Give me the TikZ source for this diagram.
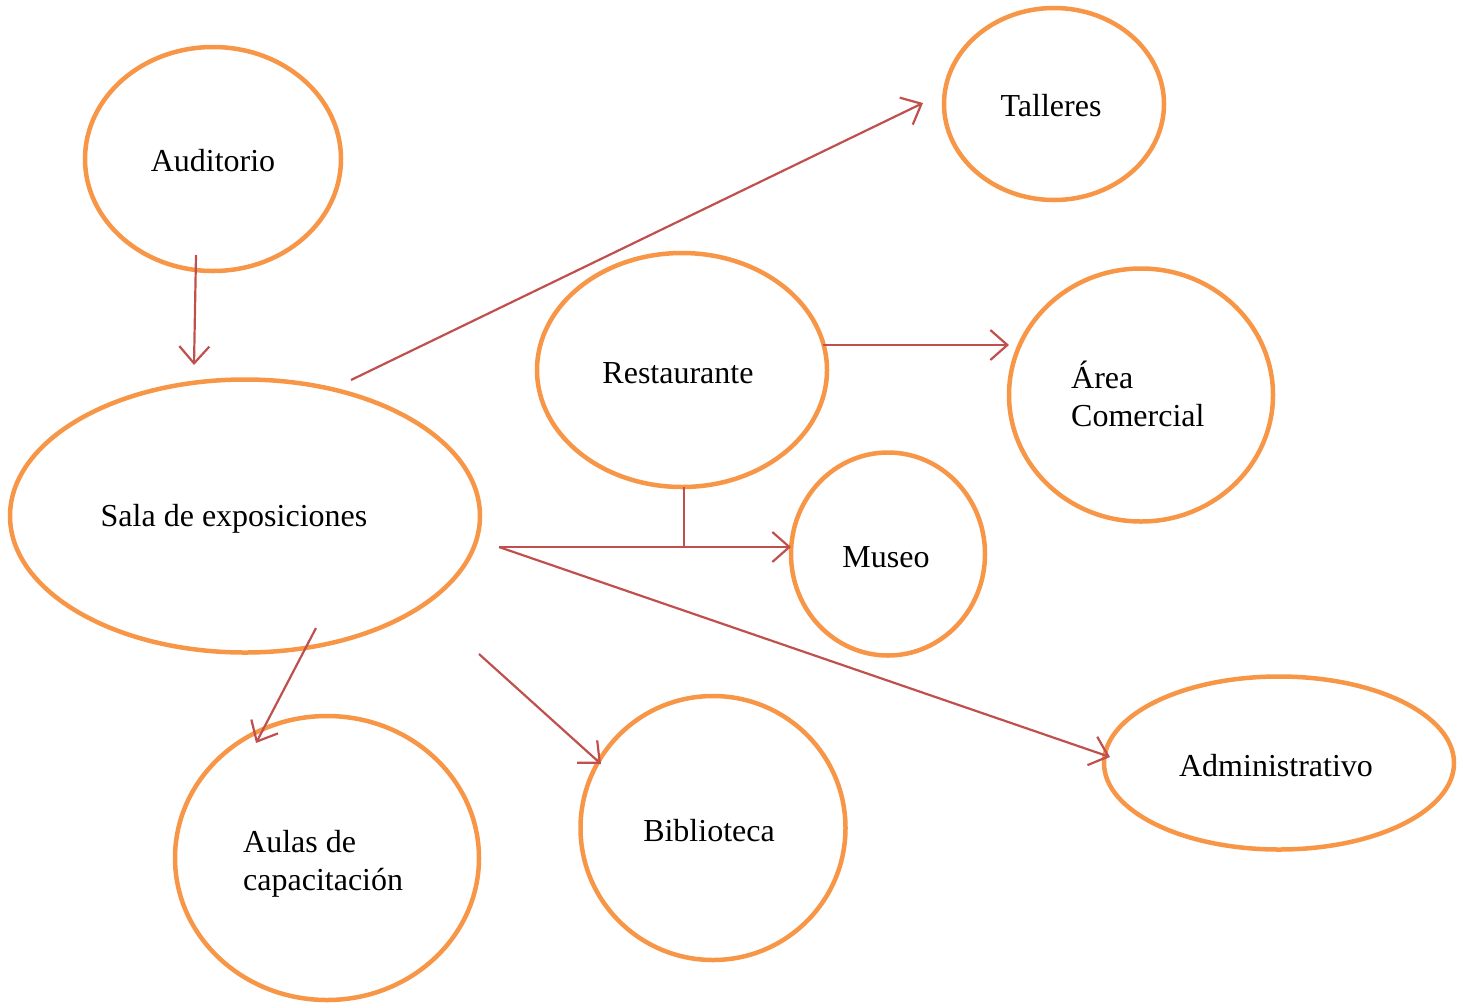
\documentclass[tikz,border=0pt]{standalone}
\usepackage{fontspec}
\setmainfont{Liberation Serif}
\usetikzlibrary{shapes.geometric,arrows.meta}
\definecolor{orng}{HTML}{F79646}
\definecolor{rd}{HTML}{C0504D}
\begin{document}
\begin{tikzpicture}[x=1pt,y=-1pt,
  bubble/.style={draw=orng,line width=4.5pt,ellipse,inner sep=0pt},
  lbl/.style={font=\fontsize{32}{38}\selectfont,inner sep=0pt},
  conn/.style={draw=rd,line width=2.2pt,-{Straight Barb[length=17pt,width=30pt,line width=2.2pt]}},
  plain/.style={draw=rd,line width=2.2pt}]
\useasboundingbox (0,0) rectangle (1466,1002);
% ellipses
\node[bubble,minimum width=256pt,minimum height=224pt] (aud) at (213,159) {};
\node[bubble,minimum width=220pt,minimum height=192pt] (tal) at (1054,104) {};
\node[bubble,minimum width=290pt,minimum height=234pt] (res) at (682,370) {};
\node[bubble,minimum width=264pt,minimum height=253pt] (com) at (1141,395) {};
\node[bubble,minimum width=470pt,minimum height=273pt] (sala) at (245,516) {};
\node[bubble,minimum width=194pt,minimum height=203pt] (mus) at (888,554) {};
\node[bubble,minimum width=350pt,minimum height=173pt] (adm) at (1279,763) {};
\node[bubble,minimum width=304pt,minimum height=284pt] (aul) at (327,858) {};
\node[bubble,minimum width=265pt,minimum height=264pt] (bib) at (713,828) {};
% labels
\node[lbl] (taud) at (213,161) {Auditorio};
\node[lbl] (ttal) at (1051,106) {Talleres};
\node[lbl] (tres) at (678,373) {Restaurante};
\node[lbl,align=left,anchor=west] (tcom) at (1071,394) {Área\\Comercial};
\node[lbl] (tsala) at (234,519) {Sala de exposiciones};
\node[lbl] (tmus) at (886,557) {Museo};
\node[lbl] (tadm) at (1276,766) {Administrativo};
\node[lbl,align=left,anchor=west] (taul) at (243,864) {Aulas de\\capacitación};
\node[lbl] (tbib) at (709,831) {Biblioteca};
% connector end points
\coordinate (a1) at (196,255);
\coordinate (a2) at (194,365);
\coordinate (b1) at (351,380);
\coordinate (b2) at (923,103);
\coordinate (c1) at (823,345);
\coordinate (c2) at (1009,345);
\coordinate (d1) at (684,487);
\coordinate (d2) at (684,547);
\coordinate (e1) at (499,547);
\coordinate (e2) at (791,547);
\coordinate (f2) at (1110,757);
\coordinate (g1) at (316,628);
\coordinate (g2) at (256,743);
\coordinate (h1) at (479,654);
\coordinate (h2) at (601,764);
% connectors
\draw[conn] (a1) -- (a2);
\draw[conn] (b1) -- (b2);
\draw[conn] (c1) -- (c2);
\draw[plain] (d1) -- (d2);
\draw[conn] (e1) -- (e2);
\draw[conn] (e1) -- (f2);
\draw[conn] (g1) -- (g2);
\draw[conn] (h1) -- (h2);
\end{tikzpicture}
\end{document}
